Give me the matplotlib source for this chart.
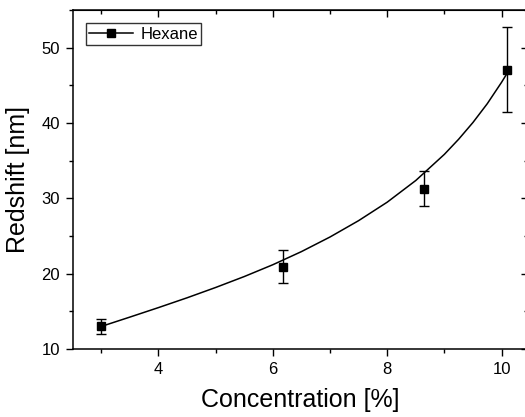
import matplotlib
matplotlib.use('Agg')
import matplotlib.pyplot as plt
from matplotlib.lines import Line2D
from matplotlib.ticker import MultipleLocator

plt.rcParams.update({
    'font.family': 'sans-serif',
    'font.sans-serif': ['Liberation Sans', 'DejaVu Sans'],
})

# measured redshift vs hexane concentration
conc = [3.0, 6.18, 8.65, 10.1]
redshift = [13.0, 20.9, 31.3, 47.1]
redshift_err = [1.05, 2.2, 2.35, 5.6]

# growth fit sampled along the concentration range
fit_x = [3.0, 3.5, 4.0, 4.5, 5.0, 5.5, 6.0, 6.5, 7.0, 7.5, 8.0, 8.5, 9.0,
         9.25, 9.5, 9.75, 10.0, 10.1]
fit_y = [13.0, 14.24, 15.50, 16.80, 18.17, 19.62, 21.19, 22.93, 24.87, 27.04,
         29.49, 32.37, 35.84, 37.85, 40.07, 42.56, 45.40, 46.63]

fig = plt.figure(figsize=(5.25, 4.17), dpi=100)
ax = fig.add_axes([0.1385, 0.163, 0.868, 0.813])

ax.plot(fit_x, fit_y, color='black', lw=1.1)
ax.errorbar(conc, redshift, yerr=redshift_err, fmt='s', color='black',
            ms=6, elinewidth=1.0, capsize=3.3, capthick=1.0)

ax.set_xlim(2.5, 10.47)
ax.set_ylim(10, 55)
ax.xaxis.set_major_locator(MultipleLocator(2))
ax.xaxis.set_minor_locator(MultipleLocator(1))
ax.yaxis.set_major_locator(MultipleLocator(10))
ax.yaxis.set_minor_locator(MultipleLocator(5))

ax.tick_params(which='major', direction='out', length=5, width=1.0,
               labelsize=12, pad=4)
ax.tick_params(which='minor', direction='out', length=3, width=1.0)
for s in ax.spines.values():
    s.set_linewidth(1.1)

# mirrored inward ticks on top and right
top = ax.secondary_xaxis('top')
top.xaxis.set_major_locator(MultipleLocator(2))
top.xaxis.set_minor_locator(MultipleLocator(1))
top.tick_params(which='major', direction='in', length=5, width=1.0, labeltop=False)
top.tick_params(which='minor', direction='in', length=3, width=1.0)
right = ax.secondary_yaxis('right')
right.yaxis.set_major_locator(MultipleLocator(10))
right.yaxis.set_minor_locator(MultipleLocator(5))
right.tick_params(which='major', direction='in', length=5, width=1.0, labelright=False)
right.tick_params(which='minor', direction='in', length=3, width=1.0)

ax.set_xlabel('Concentration [%]', fontsize=18, labelpad=8)
ax.set_ylabel('Redshift [nm]', fontsize=18, labelpad=8)

handle = Line2D([], [], color='black', lw=1.1, marker='s', ms=6)
leg = ax.legend([handle], ['Hexane'], loc='upper left', fontsize=12,
                frameon=True, fancybox=False, edgecolor='black',
                borderpad=0.2, handlelength=2.6, handletextpad=0.45,
                borderaxespad=0.8)
leg.get_frame().set_linewidth(1.0)

fig.savefig('out.png', dpi=100)
